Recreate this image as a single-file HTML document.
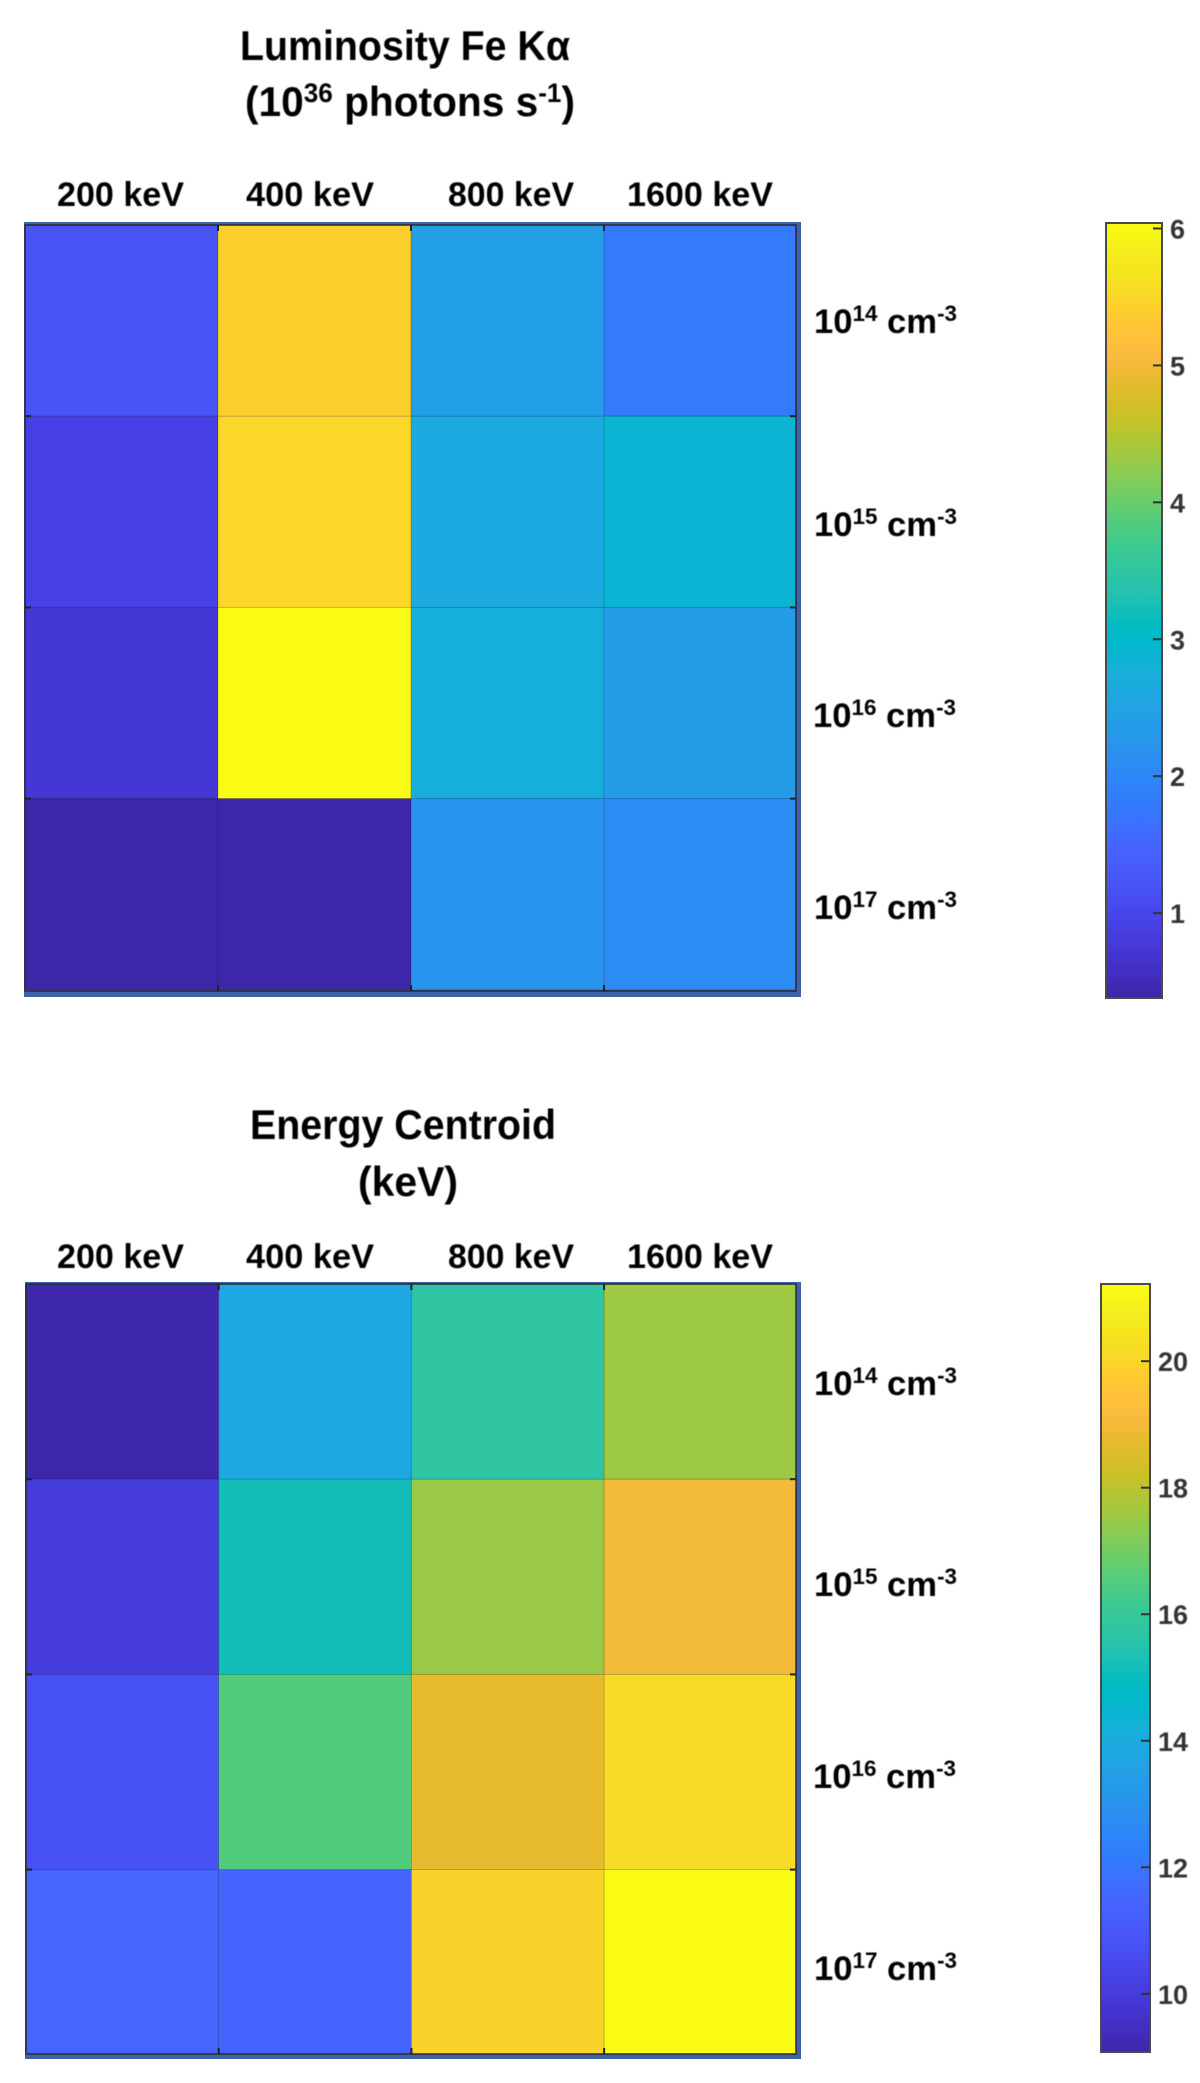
<!DOCTYPE html>
<html lang="en">
<head>
<meta charset="utf-8">
<title>Luminosity Fe Kα and Energy Centroid heatmaps</title>
<style>
html,body{margin:0;padding:0;background:#fff;}
body{width:1200px;height:2083px;overflow:hidden;}
svg{display:block;}
.lab{font-family:"Liberation Sans",sans-serif;font-weight:700;fill:#000;}
.cb{font-family:"Liberation Sans",sans-serif;font-weight:700;fill:#333;font-size:27px;}
#texts{filter:blur(.55px);}
#marks{filter:blur(.35px);}
</style>
</head>
<body>
<svg id="fig" width="1200" height="2083" viewBox="0 0 1200 2083" xmlns="http://www.w3.org/2000/svg">
  <defs id="defs"></defs>
  <g id="marks"></g>
  <g id="texts">
    <text class="lab" x="240" y="60" font-size="42" textLength="330" lengthAdjust="spacingAndGlyphs">Luminosity Fe Kα</text>
    <text class="lab" x="245" y="116" font-size="42" textLength="330" lengthAdjust="spacingAndGlyphs">(10<tspan dy="-14" font-size="27">36</tspan><tspan dy="14"> photons s</tspan><tspan dy="-14" font-size="27">-1</tspan><tspan dy="14">)</tspan></text>
    <text class="lab" x="250" y="1139" font-size="42" textLength="306" lengthAdjust="spacingAndGlyphs">Energy Centroid</text>
    <text class="lab" x="358" y="1196" font-size="42" textLength="100" lengthAdjust="spacingAndGlyphs">(keV)</text>
  </g>
</svg>
<script>
// Chart data
const columnLabels = ['200 keV', '400 keV', '800 keV', '1600 keV'];
const rowExponents = ['14', '15', '16', '17'];
const luminosityValues = [
  [1.23, 5.41, 2.45, 1.80],
  [0.92, 5.50, 2.63, 2.87],
  [0.74, 6.04, 2.76, 2.36],
  [0.38, 0.40, 2.22, 2.08]
];
const luminosityTicks = [1, 2, 3, 4, 5, 6];
const luminosityDomain = [0.38, 6.04];
const energyValues = [
  [9.10, 13.80, 15.73, 17.55],
  [10.05, 15.15, 17.50, 19.00],
  [10.82, 16.50, 18.72, 20.16],
  [11.49, 11.45, 19.93, 21.22]
];
const energyTicks = [10, 12, 14, 16, 18, 20];
const energyDomain = [9.08, 21.22];

// Parula colormap
const parula = [
[.2422,.1504,.6603],[.2504,.1650,.7076],[.2578,.1818,.7511],[.2647,.1978,.7952],
[.2706,.2147,.8364],[.2751,.2342,.8710],[.2783,.2559,.8991],[.2803,.2782,.9221],
[.2813,.3006,.9414],[.2810,.3228,.9579],[.2795,.3447,.9717],[.2760,.3667,.9829],
[.2699,.3892,.9906],[.2602,.4123,.9952],[.2440,.4358,.9988],[.2206,.4603,.9973],
[.1963,.4847,.9892],[.1834,.5074,.9798],[.1786,.5289,.9682],[.1764,.5499,.9520],
[.1687,.5703,.9359],[.1540,.5902,.9218],[.1460,.6091,.9079],[.1380,.6276,.8973],
[.1248,.6459,.8883],[.1113,.6635,.8763],[.0952,.6798,.8598],[.0689,.6948,.8394],
[.0297,.7082,.8163],[.0036,.7203,.7917],[.0067,.7312,.7660],[.0433,.7411,.7394],
[.0964,.7500,.7120],[.1408,.7584,.6842],[.1717,.7670,.6554],[.1938,.7758,.6251],
[.2161,.7843,.5923],[.2470,.7918,.5567],[.2906,.7973,.5188],[.3406,.8008,.4789],
[.3909,.8029,.4354],[.4456,.8024,.3909],[.5044,.7993,.3480],[.5616,.7942,.3045],
[.6174,.7876,.2612],[.6720,.7793,.2227],[.7242,.7698,.1910],[.7738,.7598,.1646],
[.8203,.7498,.1535],[.8634,.7406,.1596],[.9035,.7330,.1774],[.9393,.7288,.2100],
[.9728,.7298,.2394],[.9956,.7434,.2371],[.9970,.7659,.2199],[.9952,.7861,.1990],
[.9892,.8134,.1760],[.9786,.8422,.1557],[.9676,.8725,.1395],[.9610,.8998,.1230],
[.9597,.9135,.1118],[.9629,.9373,.1015],[.9700,.9640,.0900],[.9769,.9839,.0805]
];

const NS = 'http://www.w3.org/2000/svg';
const marks = document.getElementById('marks');
const texts = document.getElementById('texts');
const defs = document.getElementById('defs');

function make(tag, attrs, parent) {
  const el = document.createElementNS(NS, tag);
  for (const k in attrs) el.setAttribute(k, attrs[k]);
  parent.appendChild(el);
  return el;
}
function colormap(t) {
  const c = Math.max(0, Math.min(1, t)) * (parula.length - 1);
  const i = Math.min(parula.length - 2, Math.floor(c));
  const f = c - i;
  const ch = j => Math.round(255 * (parula[i][j] + (parula[i + 1][j] - parula[i][j]) * f));
  return 'rgb(' + ch(0) + ',' + ch(1) + ',' + ch(2) + ')';
}

function drawHeatmap(key, values, domain, box) {
  const xOf = i => Math.min(box.right, box.left + i * box.colW);
  const yOf = i => Math.min(box.bottom, box.top + i * box.rowH);
  const group = make('g', {}, marks);
  
  

  const frame = make('rect', {
    x: box.left, y: box.frameTop, width: box.frameRight - box.left, height: box.frameBottom - box.frameTop,
    fill: '#3f62a8', stroke: '#3f62a8', 'stroke-width': 2
  }, group);
  
  

  values.forEach((row, r) => row.forEach((v, c) => {
    const cell = make('rect', {
      x: xOf(c), y: yOf(r), width: xOf(c + 1) - xOf(c), height: yOf(r + 1) - yOf(r),
      fill: colormap((v - domain[0]) / (domain[1] - domain[0])),
      stroke: 'rgba(0,0,0,.13)', 'stroke-width': 1
    }, group);
    
    
  }));

  const axesBox = make('rect', {
    x: box.left, y: box.top, width: box.right - box.left, height: box.bottom - box.top,
    fill: 'none', stroke: '#2b2b33', 'stroke-width': 1.5
  }, group);
  
  

  for (let i = 1; i < columnLabels.length; i++) {
    [[box.top, box.top + 6], [box.bottom, box.bottom - 6]].forEach(p => {
      const t = make('line', { x1: xOf(i), x2: xOf(i), y1: p[0], y2: p[1], stroke: '#222', 'stroke-width': 2 }, group);
      
      
    });
  }
  for (let i = 1; i < rowExponents.length; i++) {
    [[box.left, box.left + 6], [box.right, box.right - 6]].forEach(p => {
      const t = make('line', { x1: p[0], x2: p[1], y1: yOf(i), y2: yOf(i), stroke: '#222', 'stroke-width': 2 }, group);
      
      
    });
  }

  columnLabels.forEach((name, i) => {
    const t = make('text', {
      class: 'lab', x: box.colTextX[i], y: box.colBaseline, 'font-size': 34,
      textLength: box.colTextW[i], lengthAdjust: 'spacingAndGlyphs'
    }, texts);
    t.textContent = name;
    
    
  });

  rowExponents.forEach((exp, i) => {
    const t = make('text', {
      class: 'lab', x: i === 2 ? 813 : 814, y: box.rowBaselines[i], 'font-size': 34,
      textLength: 143, lengthAdjust: 'spacingAndGlyphs'
    }, texts);
    
    
    t.appendChild(document.createTextNode('10'));
    make('tspan', { dy: -12, 'font-size': 22 }, t).textContent = exp;
    make('tspan', { dy: 12 }, t).textContent = ' cm';
    make('tspan', { dy: -12, 'font-size': 22 }, t).textContent = '-3';
  });
}

function drawColorbar(key, ticks, domain, bar) {
  const yOf = v => bar.y0 + (v - domain[0]) / (domain[1] - domain[0]) * (bar.y1 - bar.y0);
  const grad = make('linearGradient', { id: key + '-grad', x1: 0, y1: 1, x2: 0, y2: 0 }, defs);
  parula.forEach((_, i) => {
    const t = i / (parula.length - 1);
    make('stop', { offset: t, 'stop-color': colormap(t) }, grad);
  });
  const group = make('g', {}, marks);
  
  

  const top = yOf(domain[1]);
  const bottom = yOf(domain[0]);
  const rect = make('rect', {
    x: bar.left, y: top, width: bar.right - bar.left, height: bottom - top,
    fill: 'url(#' + key + '-grad)', stroke: '#4a4a4a', 'stroke-width': 2
  }, group);
  
  

  ticks.forEach(v => {
    const y = yOf(v);
    const tick = make('line', { x1: bar.right - 9, x2: bar.right, y1: y, y2: y, stroke: '#333', 'stroke-width': 2 }, group);
    
    
    const label = make('text', { class: 'cb', x: bar.right + 8, y: y + 10 }, texts);
    label.textContent = String(v);
    
    
  });
}

drawHeatmap('luminosity', luminosityValues, luminosityDomain, {
  left: 25, right: 796, top: 225, bottom: 991, colW: 193, rowH: 191.2,
  frameTop: 223, frameRight: 800, frameBottom: 996,
  colTextX: [57, 246, 448, 627], colTextW: [127, 128, 126, 146],
  colBaseline: 206, rowBaselines: [333, 536, 727, 919]
});
drawColorbar('luminosity', luminosityTicks, luminosityDomain, { left: 1106, right: 1162, y0: 998, y1: 223 });

drawHeatmap('energy', energyValues, energyDomain, {
  left: 26, right: 796, top: 1284, bottom: 2054, colW: 192.7, rowH: 195.2,
  frameTop: 1283, frameRight: 800, frameBottom: 2058,
  colTextX: [57, 246, 448, 627], colTextW: [127, 128, 126, 146],
  colBaseline: 1268, rowBaselines: [1395, 1596, 1788, 1980]
});
drawColorbar('energy', energyTicks, energyDomain, { left: 1101, right: 1150, y0: 2052, y1: 1284 });
</script>
</body>
</html>
